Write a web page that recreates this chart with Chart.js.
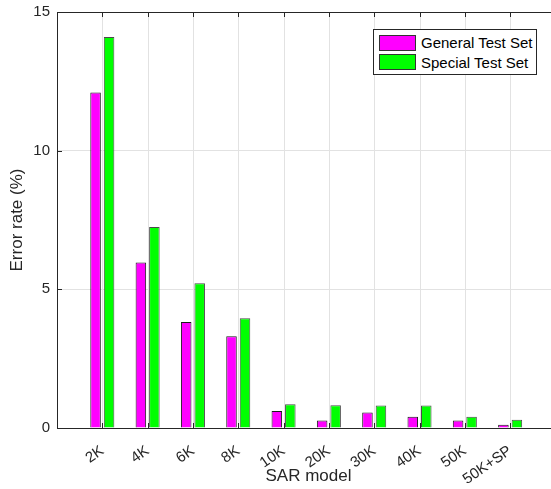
<!DOCTYPE html>
<html lang="en">
<head>
    <meta charset="UTF-8">
    <title>SAR model error rate</title>
    <script src="https://cdn.jsdelivr.net/npm/chart.js"></script>
    <style>
        html, body {
            margin: 0;
            overflow: hidden;
            background: #ffffff;
            font-family: "Liberation Sans", Arial, sans-serif;
        }
        .wrap {
            position: relative;
            width: 551px;
            height: 489px;
            overflow: hidden;
        }
        canvas {
            display: block;
        }
        #legend {
            position: absolute;
            left: 373px;
            top: 29px;
            width: 162px;
            padding: 3px 0 2px 0;
            background: #ffffff;
            border: 1px solid #262626;
            font-size: 15px;
            color: #000;
        }
        .leg-row {
            display: flex;
            align-items: center;
            height: 19.5px;
        }
        .leg-box {
            width: 35px;
            height: 14px;
            margin: 0 5px 0 5px;
            border: 1px solid #333;
        }
    </style>
</head>
<body>
    <div class="wrap">
        <!-- plot box runs past the right edge of the window, as in the original figure -->
        <canvas id="errChart" width="560" height="489"></canvas>
        <div id="legend"></div>
    </div>

    <script>
        const models = ['2K', '4K', '6K', '8K', '10K', '20K', '30K', '40K', '50K', '50K+SP'];
        const generalErr = [12.1, 5.97, 3.82, 3.31, 0.61, 0.27, 0.56, 0.41, 0.27, 0.12];
        const specialErr = [14.1, 7.25, 5.22, 3.96, 0.86, 0.82, 0.81, 0.81, 0.41, 0.30];
        const seriesNames = ['General Test Set', 'Special Test Set'];
        const seriesColors = ['#ff00ff', '#00ff00'];

        const axisColor = '#262626';
        const gridColor = '#e2e2e2';
        const fontFamily = '"Liberation Sans", Arial, sans-serif';

        const isModelTick = v => Number.isInteger(v) && v >= 1 && v <= models.length;

        // MATLAB style box: vertical grid, top border line and inward tick marks
        const boxPlugin = {
            id: 'box',
            beforeDatasetsDraw(chart) {
                const ctx = chart.ctx;
                const area = chart.chartArea;
                const xs = chart.scales.x;
                ctx.save();
                ctx.strokeStyle = gridColor;
                ctx.lineWidth = 1;
                ctx.beginPath();
                xs.ticks.filter(t => isModelTick(t.value)).forEach(t => {
                    const px = Math.round(xs.getPixelForValue(t.value)) + 0.5;
                    ctx.moveTo(px, area.top);
                    ctx.lineTo(px, area.bottom);
                });
                ctx.stroke();
                ctx.restore();
            },
            afterDraw(chart) {
                const ctx = chart.ctx;
                const area = chart.chartArea;
                const xs = chart.scales.x;
                const ys = chart.scales.y;
                ctx.save();
                ctx.strokeStyle = axisColor;
                ctx.lineWidth = 1;
                ctx.beginPath();
                ctx.moveTo(area.left, area.top + 0.5);
                ctx.lineTo(area.right, area.top + 0.5);
                xs.ticks.filter(t => isModelTick(t.value)).forEach(t => {
                    const px = Math.round(xs.getPixelForValue(t.value)) + 0.5;
                    ctx.moveTo(px, area.top);
                    ctx.lineTo(px, area.top + 5);
                    ctx.moveTo(px, area.bottom);
                    ctx.lineTo(px, area.bottom - 5);
                });
                ys.ticks.forEach(t => {
                    const py = Math.round(ys.getPixelForValue(t.value)) + 0.5;
                    ctx.moveTo(area.left, py);
                    ctx.lineTo(area.left + 5, py);
                });
                ctx.stroke();
                ctx.restore();
            }
        };

        const chart = new Chart(document.getElementById('errChart'), {
            type: 'bar',
            data: {
                datasets: [
                    {
                        label: seriesNames[0],
                        data: generalErr.map((v, i) => ({ x: i + 1, y: v })),
                        backgroundColor: seriesColors[0],
                        borderColor: '#1a1a1a',
                        borderWidth: 1
                    },
                    {
                        label: seriesNames[1],
                        data: specialErr.map((v, i) => ({ x: i + 1, y: v })),
                        backgroundColor: seriesColors[1],
                        borderColor: '#4a4a4a',
                        borderWidth: 1
                    }
                ]
            },
            plugins: [boxPlugin],
            options: {
                responsive: false,
                animation: false,
                categoryPercentage: 0.596,
                barPercentage: 0.78,
                layout: { padding: { top: 12, right: 0, left: 0, bottom: 0 } },
                plugins: {
                    legend: { display: false },
                    tooltip: { enabled: false }
                },
                scales: {
                    x: {
                        type: 'linear',
                        min: 0,
                        max: 11.1,
                        offset: false,
                        afterBuildTicks: s => { s.ticks = models.map((_, i) => ({ value: i + 1 })); },
                        afterFit: s => {
                            s.height = 61;
                            s.paddingLeft = 0;
                            s.paddingRight = 0;
                        },
                        ticks: {
                            autoSkip: false,
                            minRotation: 35,
                            maxRotation: 35,
                            padding: 14,
                            color: axisColor,
                            font: { family: fontFamily, size: 15 },
                            callback: v => isModelTick(v) ? models[v - 1] : ''
                        },
                        grid: { display: false, drawTicks: false, offset: false },
                        border: { display: true, color: axisColor, width: 1 },
                        title: {
                            display: true,
                            text: 'SAR model',
                            color: axisColor,
                            font: { family: fontFamily, size: 17 },
                            padding: { top: 0, bottom: 2 }
                        }
                    },
                    y: {
                        min: 0,
                        max: 15,
                        afterFit: s => {
                            s.width = 57;
                            s.paddingTop = 0;
                            s.paddingBottom = 0;
                        },
                        ticks: {
                            stepSize: 5,
                            padding: 7,
                            color: axisColor,
                            font: { family: fontFamily, size: 15 }
                        },
                        grid: { color: gridColor, drawTicks: false },
                        border: { color: axisColor, width: 1 },
                        title: {
                            display: true,
                            text: 'Error rate (%)',
                            color: axisColor,
                            font: { family: fontFamily, size: 17 },
                            padding: { top: 7, bottom: 0 }
                        }
                    }
                }
            }
        });

        // HTML legend built from the chart's datasets
        const legendEl = document.getElementById('legend');
        chart.data.datasets.forEach(ds => {
            const row = document.createElement('div');
            row.className = 'leg-row';
            const box = document.createElement('span');
            box.className = 'leg-box';
            box.style.background = ds.backgroundColor;
            const txt = document.createElement('span');
            txt.textContent = ds.label;
            row.appendChild(box);
            row.appendChild(txt);
            legendEl.appendChild(row);
        });
    </script>
</body>
</html>
